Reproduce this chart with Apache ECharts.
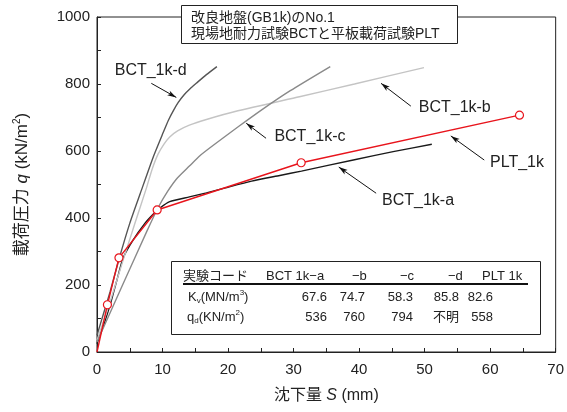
<!DOCTYPE html>
<html><head><meta charset="utf-8">
<script src="https://cdn.jsdelivr.net/npm/echarts@6/dist/echarts.min.js"></script>
<style>html,body{margin:0;padding:0;background:#fff}#c{width:567px;height:412px}</style>
</head><body><div id="c"></div>
<script>
// ---- data ----
const bctA = [[0,25],[1,80],[2,140],[3,212],[4,281],[5.5,334],[7.3,384],[8.6,412],[9.6,430],[11.1,449],[14.1,463],[16.7,475],[19.6,490],[23.6,510],[27.9,527],[31.2,540],[39.3,574],[45.2,598],[51.1,620]];
const bctB = [[0,35],[2,150],[4,275],[5.8,385],[7.6,493],[8.4,545],[9.3,590],[10.2,620],[11.1,642],[12.3,660],[14.1,677],[16.7,694],[21.5,720],[30.9,762],[39.3,800],[49.9,849]];
const bctC = [[0,30],[3.9,200],[7.6,360],[9.3,430],[10.8,480],[12.2,518],[14.1,555],[15.7,586],[17.8,618],[21.6,673],[25.3,725],[29.5,780],[35.6,852]];
const bctD = [[0,50],[1,115],[2,180],[3.4,280],[5.0,384],[6.6,473],[8.6,583],[10.1,655],[10.9,692],[11.7,722],[12.4,745],[13.3,768],[14.2,786],[15.2,803],[16.7,828],[18.3,852]];
const plt  = [[0,0],[1.59,141],[3.35,281],[9.18,424],[31.16,565],[64.48,707]];
const seriesNames = ['BCT_1k-a','BCT_1k-b','BCT_1k-c','BCT_1k-d','PLT_1k'];
// annotation: label centre and arrow [from, to] in data units
const labelPos = [[49.0,452],[54.6,731],[32.5,642],[8.2,841],[64.1,565]];
const arrowSeg = [[[42.6,474],[36.9,552]],[[47.9,734],[43.35,802]],[[25.8,638],[22.77,683]],[[8.29,802],[12.1,760]],[[59.1,573],[54.0,645]]];
const xTicks = [0,10,20,30,40,50,60,70];
const yTicks = [0,200,400,600,800,1000];
const titleLines = ['改良地盤(GB1k)のNo.1','現場地耐力試験BCTと平板載荷試験PLT'];
const tableHeader = ['実験コード','BCT 1k−a','−b','−c','−d','PLT 1k'];
const kvValues = ['67.6','74.7','58.3','85.8','82.6'];
const qdValues = ['536','760','794','不明','558'];

const FONT = '"Liberation Sans","Noto Sans CJK JP",sans-serif';
const colors = ['#1a1a1a','#c4c4c4','#8a8a8a','#555555','#e8141c'];
const datas = [bctA,bctB,bctC,bctD,plt];

const series = datas.map((d,i)=>{
  const isPlt = i===4;
  return {
    name: seriesNames[i], type:'line', data: d,
    smooth: isPlt ? false : 0.2,
    showSymbol: isPlt, symbol:'circle', symbolSize: 8,
    itemStyle:{color:'#fff', borderColor:colors[i], borderWidth:1.2},
    lineStyle:{color:colors[i], width:1.4},
    z: isPlt?5:3,
    markLine:{silent:true, animation:false, symbol:['none','arrow'], symbolSize:[4,9],
      lineStyle:{color:'#111', width:1, type:'solid'}, label:{show:false},
      data:[[{coord:arrowSeg[i][0]},{coord:arrowSeg[i][1]}]]},
    markPoint:{silent:true, animation:false, symbol:'rect', symbolSize:1, itemStyle:{color:'rgba(0,0,0,0)'},
      label:{show:true, position:'inside', formatter:'{b}', color:'#222', fontSize:16, fontFamily:FONT},
      data:[{name:seriesNames[i], coord:labelPos[i]}]}
  };
});
series[4].data = plt.map((p,k)=> k===0 ? {value:p, symbolSize:0} : p);

// table + title graphics
const g = [];
g.push({type:'rect', shape:{x:181.5,y:5.5,width:276,height:38}, style:{fill:'#fff', stroke:'#222', lineWidth:1}, z:100});
titleLines.forEach((t,k)=> g.push({type:'text', z:101, style:{text:t, x:191, y:18+k*16, fill:'#222', fontSize:14, fontFamily:FONT, verticalAlign:'middle'}}));
g.push({type:'rect', shape:{x:171.5,y:261.5,width:369,height:73}, style:{fill:'#fff', stroke:'#222', lineWidth:1}, z:100});
const headX = [183,266,352,400,448,482];
tableHeader.forEach((t,k)=> g.push({type:'text', z:101, style:{text:t, x:headX[k], y:276.5, fill:'#222', fontSize:13, fontFamily:FONT, verticalAlign:'middle'}}));
g.push({type:'line', z:101, shape:{x1:183,y1:284,x2:528,y2:284}, style:{stroke:'#111', lineWidth:2}});
const valR = [327,365,413,459,493];
kvValues.forEach((t,k)=> g.push({type:'text', z:101, style:{text:t, x:valR[k], y:297, align:'right', fill:'#222', fontSize:13, fontFamily:FONT, verticalAlign:'middle'}}));
qdValues.forEach((t,k)=> g.push({type:'text', z:101, style:{text:t, x:valR[k], y:317, align:'right', fill:'#222', fontSize:13, fontFamily:FONT, verticalAlign:'middle'}}));
const richT = {n:{fontSize:13, fontFamily:FONT, fill:'#222', lineHeight:16}, b:{fontSize:8, fontFamily:FONT, fill:'#222', verticalAlign:'bottom', lineHeight:16}, p:{fontSize:8, fontFamily:FONT, fill:'#222', verticalAlign:'top', lineHeight:16}};
g.push({type:'text', z:101, style:{text:'{n|K}{b|v}{n|(MN/m}{p|3}{n|)}', rich:richT, x:188, y:297, verticalAlign:'middle'}});
g.push({type:'text', z:101, style:{text:'{n|q}{b|d}{n|(KN/m}{p|2}{n|)}', rich:richT, x:187, y:317, verticalAlign:'middle'}});

const chart = echarts.init(document.getElementById('c'), null, {renderer:'canvas'});
chart.setOption({
  animation:false,
  backgroundColor:'#fff',
  grid:{left:97, right:10, top:17, bottom:60, show:true, borderColor:'#222', borderWidth:1, backgroundColor:'transparent'},
  xAxis:{type:'value', min:0, max:70, interval:5,
    name:'{n|沈下量 }{i|S}{n| (mm)}', nameLocation:'middle', nameGap:36,
    nameTextStyle:{rich:{n:{fontSize:16, fontFamily:FONT, color:'#222'}, i:{fontSize:16, fontStyle:'italic', fontFamily:FONT, color:'#222'}}},
    axisLine:{lineStyle:{color:'#222'}}, axisTick:{inside:true, length:4, lineStyle:{color:'#222'}},
    axisLabel:{color:'#222', fontSize:15, fontFamily:FONT, margin:10, formatter:v=> xTicks.includes(v)? String(v):''},
    splitLine:{show:false}},
  yAxis:{type:'value', min:0, max:1000, interval:100,
    name:'{n|載荷圧力 }{i|q}{n| (kN/m}{s|2}{n|)}', nameLocation:'middle', nameGap:65, nameRotate:90,
    nameTextStyle:{rich:{n:{fontSize:17, fontFamily:FONT, color:'#222', lineHeight:20}, i:{fontSize:17, fontStyle:'italic', fontFamily:FONT, color:'#222', lineHeight:20}, s:{fontSize:10, fontFamily:FONT, color:'#222', verticalAlign:'top', lineHeight:20}}},
    axisLine:{show:true, lineStyle:{color:'#222'}}, axisTick:{show:true, inside:true, length:4, lineStyle:{color:'#222'}},
    axisLabel:{color:'#222', fontSize:15, fontFamily:FONT, margin:7, formatter:v=> yTicks.includes(v)? String(v):''},
    splitLine:{show:false}},
  series: series,
  graphic: g
});
</script></body></html>
